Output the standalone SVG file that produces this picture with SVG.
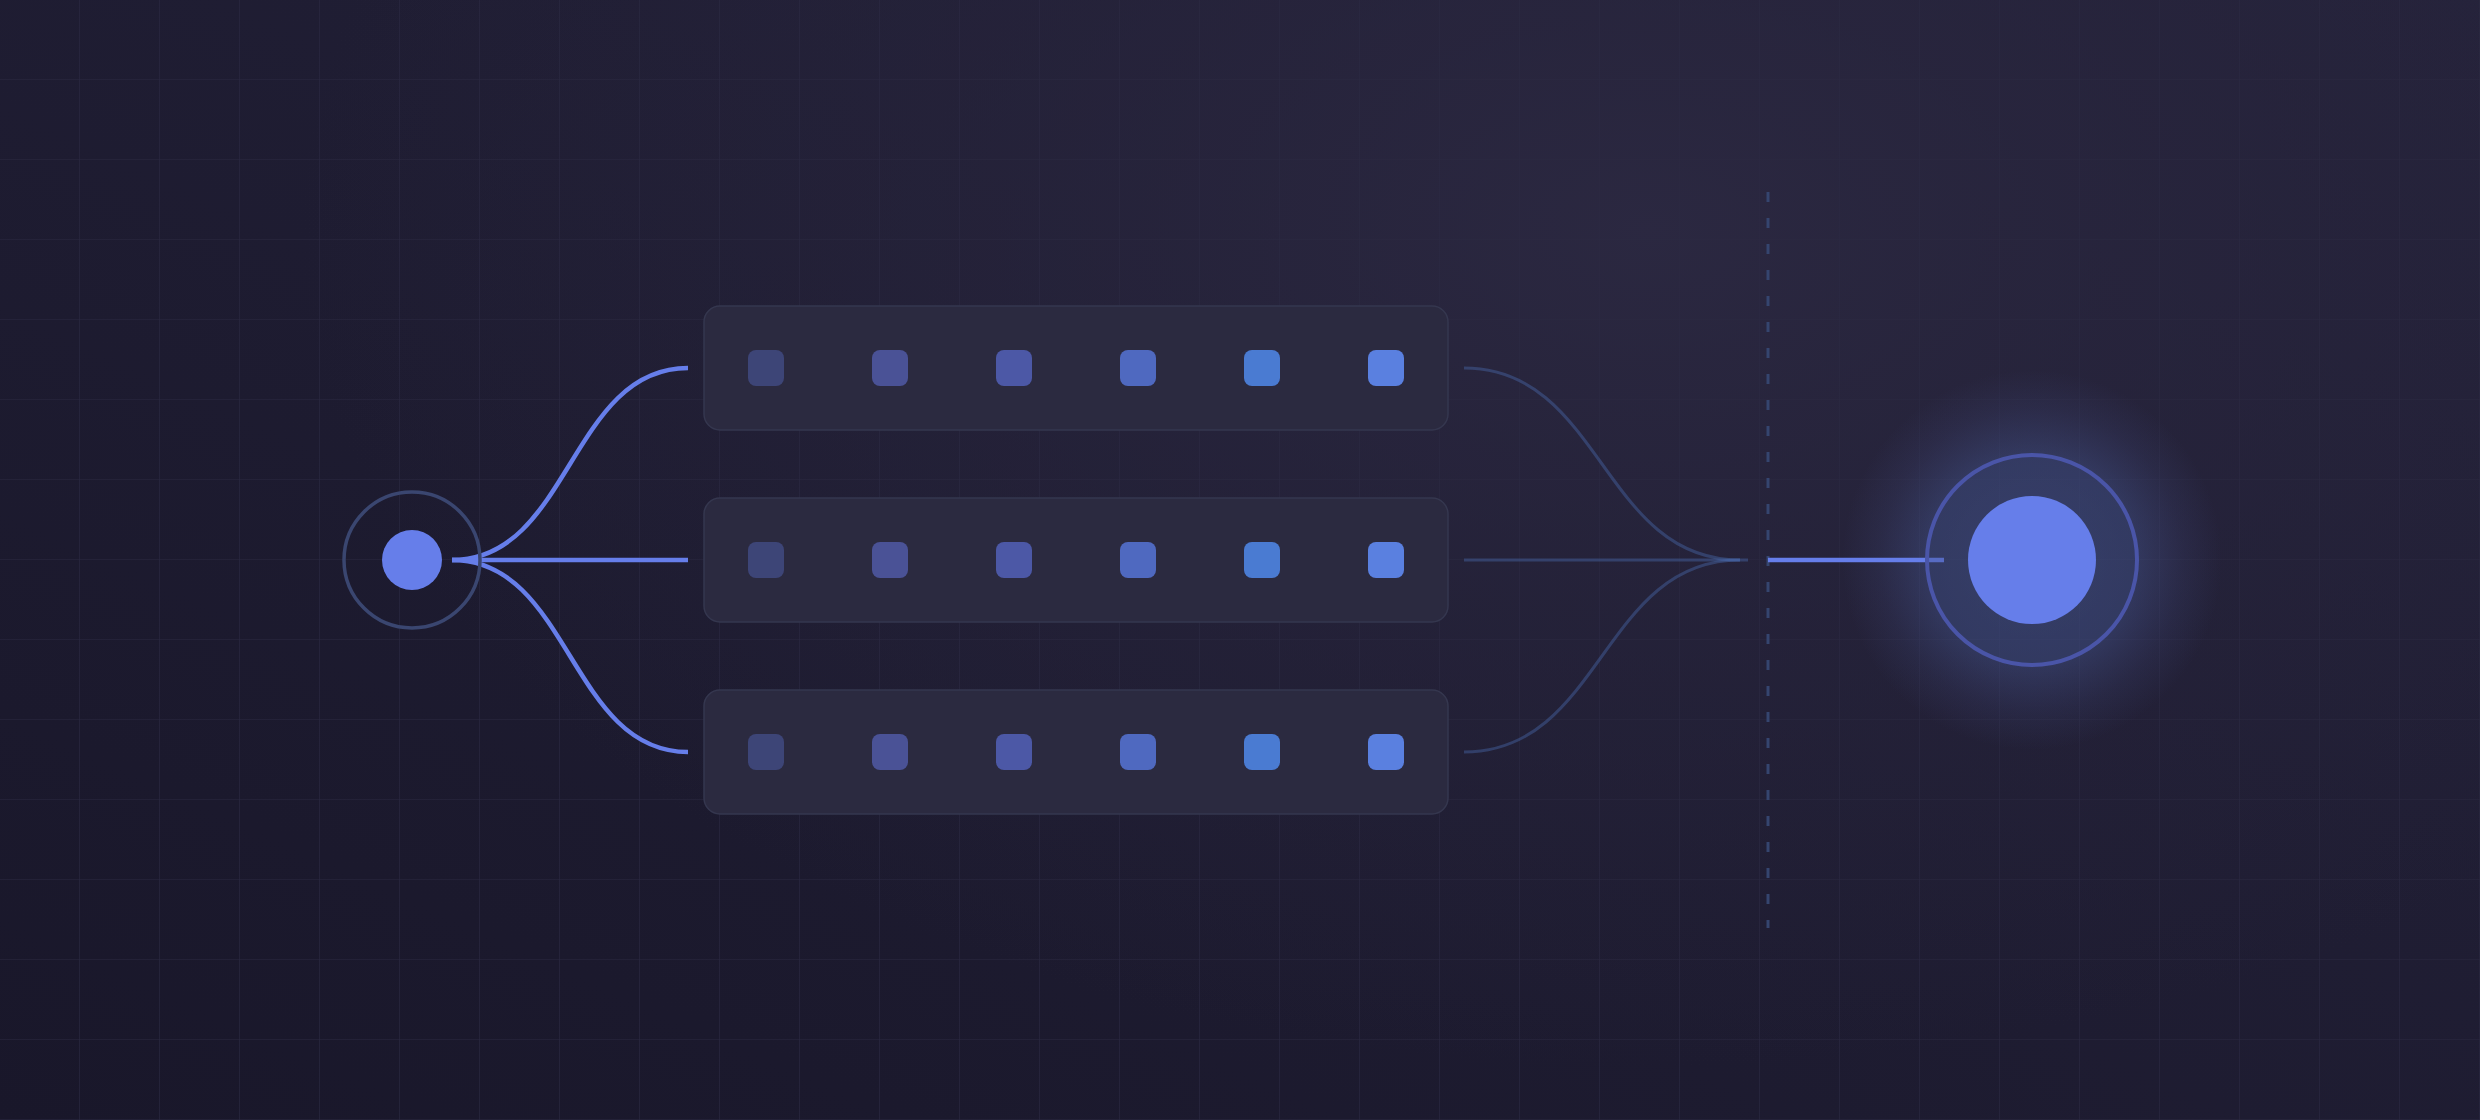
<svg xmlns="http://www.w3.org/2000/svg" width="2480" height="1120" viewBox="0 0 2480 1120">
  <defs>
    <linearGradient id="bg" x1="0" y1="1" x2="1" y2="0">
      <stop offset="0" stop-color="#19172a"/>
      <stop offset="1" stop-color="#24223a"/>
    </linearGradient>
    <radialGradient id="haze" cx="1650" cy="230" r="1350" gradientUnits="userSpaceOnUse" gradientTransform="translate(1650 230) scale(1 0.62) translate(-1650 -230)">
      <stop offset="0" stop-color="#2c2942" stop-opacity="0.9"/>
      <stop offset="0.5" stop-color="#28253d" stop-opacity="0.55"/>
      <stop offset="1" stop-color="#28253d" stop-opacity="0"/>
    </radialGradient>
    <radialGradient id="glow" cx="2032" cy="560" r="190" gradientUnits="userSpaceOnUse">
      <stop offset="0" stop-color="#5a78c8" stop-opacity="0.34"/>
      <stop offset="0.55" stop-color="#5a78c8" stop-opacity="0.26"/>
      <stop offset="0.8" stop-color="#5a70c0" stop-opacity="0.1"/>
      <stop offset="1" stop-color="#5a70c0" stop-opacity="0"/>
    </radialGradient>
    <pattern id="grid" width="80" height="80" patternUnits="userSpaceOnUse">
      <path d="M80 0 V80 M0 80 H80" fill="none" stroke="#2b2942" stroke-width="1.2"/>
    </pattern>
    <style>
      .box { fill: #2b2a40; stroke: #35374f; stroke-width: 1.5; }
      .sq { stroke: none; }
      .flow { fill: none; stroke: #667eea; stroke-width: 4.5; }
      .merge { fill: none; stroke: #4c6fb4; stroke-opacity: 0.4; stroke-width: 3; }
    </style>
  </defs>

  <!-- background -->
  <rect width="2480" height="1120" fill="url(#bg)"/>
  <rect width="2480" height="1120" fill="url(#haze)"/>
  <rect width="2480" height="1120" fill="url(#grid)"/>

  <!-- glow behind output node -->
  <circle cx="2032" cy="560" r="190" fill="url(#glow)"/>

  <!-- dashed divider -->
  <line x1="1768" y1="192" x2="1768" y2="928" stroke="#35456f" stroke-width="3" stroke-dasharray="10 16"/>

  <!-- connectors -->
  <g id="connectors">
    <path class="flow" d="M452 560 C570 560 570 368 688 368"/>
    <path class="flow" d="M452 560 H688"/>
    <path class="flow" d="M452 560 C570 560 570 752 688 752"/>
    <path class="merge" d="M1464 368 C1602 368 1602 560 1740 560"/>
    <path class="merge" d="M1464 560 H1748"/>
    <path class="merge" d="M1464 752 C1602 752 1602 560 1740 560"/>
    <path class="flow" d="M1768 560 H1944"/>
  </g>

  <!-- source node -->
  <g id="source">
    <circle cx="412" cy="560" r="68" fill="none" stroke="#3a4670" stroke-width="3.5"/>
    <circle cx="412" cy="560" r="30" fill="#667eea"/>
  </g>

  <!-- row 1 -->
  <g id="row1">
    <rect class="box" x="704" y="306" width="744" height="124" rx="16"/>
    <rect class="sq" x="748" y="350" width="36" height="36" rx="8" fill="#3d4577"/>
    <rect class="sq" x="872" y="350" width="36" height="36" rx="8" fill="#4a5296"/>
    <rect class="sq" x="996" y="350" width="36" height="36" rx="8" fill="#4c58a6"/>
    <rect class="sq" x="1120" y="350" width="36" height="36" rx="8" fill="#4f69c0"/>
    <rect class="sq" x="1244" y="350" width="36" height="36" rx="8" fill="#4a7bd2"/>
    <rect class="sq" x="1368" y="350" width="36" height="36" rx="8" fill="#5a80e0"/>
  </g>

  <!-- row 2 -->
  <g id="row2">
    <rect class="box" x="704" y="498" width="744" height="124" rx="16"/>
    <rect class="sq" x="748" y="542" width="36" height="36" rx="8" fill="#3d4577"/>
    <rect class="sq" x="872" y="542" width="36" height="36" rx="8" fill="#4a5296"/>
    <rect class="sq" x="996" y="542" width="36" height="36" rx="8" fill="#4c58a6"/>
    <rect class="sq" x="1120" y="542" width="36" height="36" rx="8" fill="#4f69c0"/>
    <rect class="sq" x="1244" y="542" width="36" height="36" rx="8" fill="#4a7bd2"/>
    <rect class="sq" x="1368" y="542" width="36" height="36" rx="8" fill="#5a80e0"/>
  </g>

  <!-- row 3 -->
  <g id="row3">
    <rect class="box" x="704" y="690" width="744" height="124" rx="16"/>
    <rect class="sq" x="748" y="734" width="36" height="36" rx="8" fill="#3d4577"/>
    <rect class="sq" x="872" y="734" width="36" height="36" rx="8" fill="#4a5296"/>
    <rect class="sq" x="996" y="734" width="36" height="36" rx="8" fill="#4c58a6"/>
    <rect class="sq" x="1120" y="734" width="36" height="36" rx="8" fill="#4f69c0"/>
    <rect class="sq" x="1244" y="734" width="36" height="36" rx="8" fill="#4a7bd2"/>
    <rect class="sq" x="1368" y="734" width="36" height="36" rx="8" fill="#5a80e0"/>
  </g>

  <!-- output node -->
  <g id="output">
    <circle cx="2032" cy="560" r="105" fill="#34406a" fill-opacity="0.3" stroke="#4a55a8" stroke-width="4"/>
    <circle cx="2032" cy="560" r="64" fill="#667eea"/>
  </g>
</svg>
